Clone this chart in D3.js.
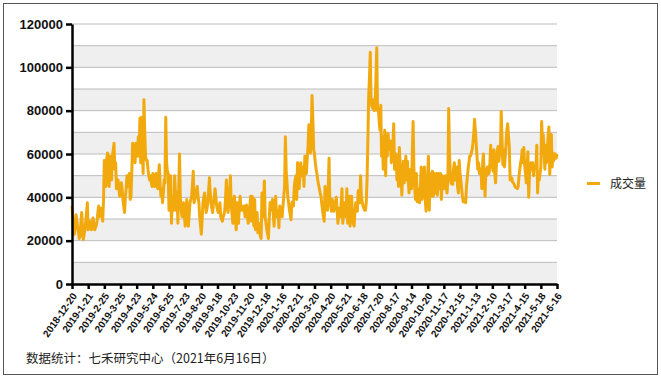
<!DOCTYPE html>
<html><head><meta charset="utf-8">
<script src="https://cdn.jsdelivr.net/npm/d3@7"></script>
<style>body{margin:0;background:#fff;} svg{display:block;}</style>
</head><body><svg id="c" width="661" height="378"></svg>
<script>
const xTickLabels = ["2018-12-20","2019-1-21","2019-2-25","2019-3-25","2019-4-23","2019-5-24","2019-6-25","2019-7-23","2019-8-20","2019-9-18","2019-10-23","2019-11-20","2019-12-18","2020-1-16","2020-2-21","2020-3-20","2020-4-20","2020-5-21","2020-6-18","2020-7-20","2020-8-17","2020-9-14","2020-10-20","2020-11-17","2020-12-15","2021-1-13","2021-2-10","2021-3-17","2021-4-15","2021-5-18","2021-6-16"];
const yTicks = [0,20000,40000,60000,80000,100000,120000];
const seriesName = "成交量";
const sourceNote = "数据统计：七禾研究中心（2021年6月16日）";
const UNIT = 1000;
// daily volume, in thousands (one value per trading day)
const volumeK = [
36,30,24,23,27,32,29,26,24,21,22,28,33,26,20.5,23,25,29,33,37.5,
25,27,29,27,25,28,30.5,28,25,26,27,29,33,36,31,32,35,33,29,39,
57,52,45,58,60.5,56,45,59,54,48,59,62,65,53,56,44,46,48,44,40.5,
42,46.7,44,39,36,33,40,44,50,45,48,51,39,40.5,52,65,60,64,56,65,
60,59,68,59,76.5,56,77,62,51,85,70,59,57,57,53,50,48,50,47,45,
51,48,45,48,51,47,44,50,55,46,40.5,44,37.5,42,48,46.7,77,56,52,51,
34,42,50,28,40.5,37,34,50,42,34,42,28,44,60,40.5,35,31,34,37.5,32,
26.7,33,39,30,26.7,32,37.5,39,40.5,46,52,37.5,39,40.5,43,45,40,37.5,31,27,
23,30,37.5,40,42,37,33,35,37.5,43,49,42,37.5,35,33,37.5,40,44,40,36,
34,33,35,37.5,31,30,29,31,32,34,40,48,38,33,37.5,43,50,36,32,28,
39,40.5,34,25,30,37.5,28,35,40.5,34,36,34,35,36,31,34,36.5,32,28,31,
36,40.5,29,40.5,33,26.7,39,25,30,33,23.6,28,25,22,21,42,31,38,47.5,31,
28,25,23,21,30,37.5,34,36,39,32,26.7,35,40.5,31,33,34,26,36,34,33.6,
31,36,40.5,45,68,52,46.7,40,37.5,34,32,29.7,37.5,38,36,45,48,50,39,56,
50,44,50,56,50,52,54,45,59,55,51,58,63.5,73.5,65,60.5,71,87,76,62,
60,56,53,51,48,46,44,42,40.5,37,34,31,29,45,40.5,38,34,45,58,37.5,
36,33.6,39,36,33.6,37.5,38,40,34,28,35,33,31,38,44,28,33,37.5,34,31,
44,28,35,40.5,26.7,34,40.5,31,28,26.7,33,37.5,35,33.6,43,40,37.5,50,40.5,38,
36,35,34,34,37.5,48,66,86.5,95,107,84,82,81,85,80,82,95,109,80,81,
75,71,82.5,59,68,53,60,71,50,68,59,69.5,64,62,66,56,60,63.5,74,53,
55,60,48,51,45,63,55,53,41,50,56.6,46.7,52,59,48,56.6,48,42,47,53,
44,60,75,53,44,39,51,38,44,40.5,37.5,45,54,39,46.7,50,54,39,33.6,45,
50,59,34,51,45,40.5,52,40.5,51,46,42,51,41,51,47,44,51,39,50,46,
44,48,50,45,42,48,81,60.5,51,46.7,46,46,53,56,48,51,54,45,42,57,
51,48,44,40.5,38,39,39,37.5,45,49,53,56,59,59,60.5,62,65,69.5,76,71,
65,59,53,56,51,52,53,44,56,60,50,40.5,53,50,54,52,51,56,64,54,
54,52,62,51,46.7,55,61,63.5,56.6,60,62,79.6,66,55,62,54,59,65,71,74,
68,63.5,48,48,49,47,46.7,46,45,44.5,44.5,44,45,50,53,56,58,62,56,63,
55,51,46.7,53,61,40,51,53,56,54,56,50,54,53,55,64,42,50,48,51,
54,75,65,69,60,53,64,56,62,68,72.5,50.5,59,69,54,60.5,57,60,60,58,
60
];
const volume = volumeK.map(v => v * UNIT);

const svg = d3.select("#c");
svg.append("rect").attr("x",3.5).attr("y",3.5).attr("width",654).attr("height",371)
  .attr("fill","#fff").attr("stroke","#555").attr("stroke-width",1);

const L = 72, R = 557, T = 24, B = 284;
const x = d3.scaleLinear().domain([0, volume.length - 1]).range([L, R]);
const y = d3.scaleLinear().domain([0, 120000]).range([B, T]);

// alternating bands
const bandStarts = d3.range(0, 120000, 10000).filter(v => (v / 10000) % 2 === 0);
svg.append("g").selectAll("rect").data(bandStarts).join("rect")
  .attr("x", L).attr("width", R - L)
  .attr("y", d => y(d + 10000)).attr("height", d => y(d) - y(d + 10000))
  .attr("fill", "#efefef");
// grid lines
svg.append("g").selectAll("line").data(d3.range(10000, 120001, 10000)).join("line")
  .attr("x1", L).attr("x2", R).attr("y1", d => y(d)).attr("y2", d => y(d))
  .attr("stroke", "#bcbcbc").attr("stroke-width", 1);

// series line
svg.append("path").datum(volume)
  .attr("d", d3.line().x((d, i) => x(i)).y(d => y(d)))
  .attr("fill", "none").attr("stroke", "#F2A90E").attr("stroke-width", 3)
  .attr("stroke-linejoin", "round");

// y axis
const ya = svg.append("g").attr("transform", `translate(${L},0)`)
  .call(d3.axisLeft(y).tickValues(yTicks).tickSize(6).tickSizeOuter(0).tickPadding(3).tickFormat(d3.format("d")));
ya.select(".domain").attr("stroke", "#000").attr("stroke-width", 2.5);
ya.selectAll(".tick line").attr("stroke", "#000").attr("stroke-width", 2.5);
ya.selectAll(".tick text").attr("fill", "#111")
  .style("font", "bold 13px 'Liberation Sans', Arial, sans-serif");

// x axis
const tickIdx = d3.range(0, volume.length, 20);
const xa = svg.append("g").attr("transform", `translate(0,${B})`)
  .call(d3.axisBottom(x).tickValues(tickIdx).tickSize(5).tickSizeOuter(0)
    .tickFormat((d, i) => xTickLabels[i]));
xa.select(".domain").attr("stroke", "#000").attr("stroke-width", 2.5);
xa.selectAll(".tick line").attr("stroke", "#000").attr("stroke-width", 2.5);
xa.selectAll(".tick text")
  .attr("x", 0).attr("y", 0).attr("dy", "0.35em")
  .attr("text-anchor", "end")
  .attr("transform", "translate(2,10) rotate(-55)")
  .attr("fill", "#111")
  .style("font", "bold 10px 'Liberation Sans', Arial, sans-serif");

// legend
svg.append("line").attr("x1", 587).attr("x2", 600).attr("y1", 183.5).attr("y2", 183.5)
  .attr("stroke", "#F2A90E").attr("stroke-width", 3);
svg.append("text").attr("x", 610).attr("y", 188).text(seriesName)
  .attr("fill", "#222").style("font", "12px 'Noto Sans CJK SC', sans-serif");

// source note
svg.append("text").attr("x", 26).attr("y", 363).text(sourceNote)
  .attr("fill", "#222").style("font", "12.5px 'Noto Sans CJK SC', sans-serif");
</script></body></html>
